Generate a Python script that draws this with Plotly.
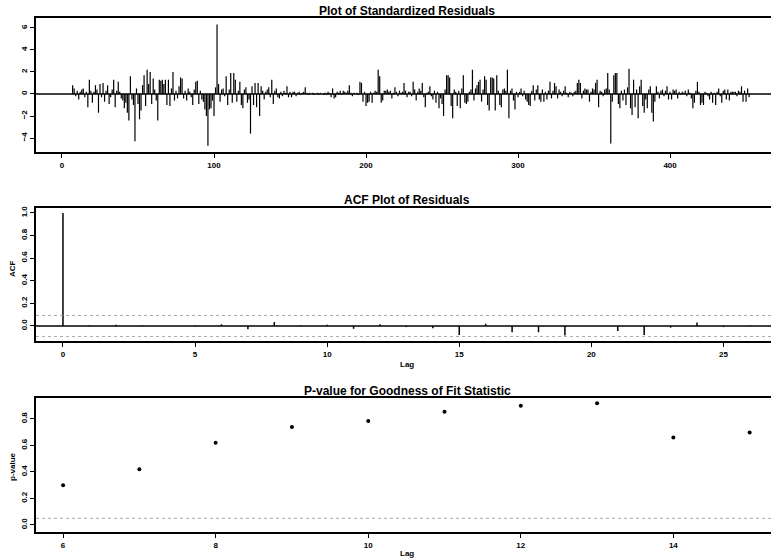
import plotly.graph_objects as go

# ---------------- data ----------------
resid_start = 7
residuals = [
    0.8, 0.5, -0.2, 0.3, -0.5, 0.2, 0.4, 0.5, -0.3, 0.2,
    -1.2, 1.3, 0.3, -0.8, 0.2, 0.8, 0.4, -1.7, 0.9, -0.3,
    1.0, -0.7, 0.3, 0.8, -0.9, -0.3, 0.4, 1.3, -1.2, 0.3,
    1.1, 0.2, -0.4, -0.6, -1.3, -0.8, -1.7, -2.4, 1.6, -0.5,
    -1.0, -4.3, 0.5, -0.9, -2.3, -1.5, 0.8, 1.7, -1.1, 2.2,
    0.9, 2.0, -0.9, 1.4, 0.4, -0.6, -2.4, 1.3, 1.2, 1.3,
    0.9, 1.3, -1.0, 1.3, -1.1, 0.5, 2.0, -0.6, 0.3, -0.4,
    0.7, 1.5, 1.4, -0.4, 0.3, -0.6, 0.5, 0.2, -0.3, -1.0,
    0.4, 1.1, 1.2, -0.9, 0.3, -0.5, -0.7, -1.4, -2.0, -4.7,
    -1.4, -1.3, -0.6, -2.0, 0.6, 6.3, 0.9, -0.7, 0.4, 0.5,
    -0.2, 1.6, -1.0, 0.4, 1.9, -0.8, 1.9, 1.3, -0.7, 0.3,
    1.1, -1.0, -1.3, 0.4, 0.6, -0.8, -0.5, -3.6, 0.7, -1.0,
    1.0, -1.2, 1.0, -2.0, 0.7, 0.3, -0.5, 0.2, 0.4, 0.6,
    -0.3, 1.3, -0.9, 0.3, 0.5, -0.3, -0.4, 0.2, -0.2, 0.3,
    0.1, 0.7, -0.3, 0.2, -0.3, 0.2, 0.2, -0.2, 0.1, 0.2,
    -0.1, 0.1, 0.2, 0.6, 0.1, -0.1, 0.1, 0.0, 0.1, -0.1,
    0.0, 0.1, -0.1, 0.1, 0.0, -0.1, 0.1, -0.1, 0.2, 0.1,
    -0.3, 0.5, -0.4, -0.3, 0.2, 0.1, 0.3, -0.1, 0.3, 0.2,
    0.1, 0.3, 0.8, 0.1, -0.2, 0.1, 0.0, 0.1, -0.1, 1.1,
    1.0, -0.7, 0.2, -1.1, -0.8, -0.7, 0.2, -0.8, 0.1, 0.3,
    0.2, 2.2, 1.6, -0.8, -0.6, 0.3, 0.3, 0.4, 0.2, 0.3,
    -0.4, 0.1, 0.6, 0.2, -0.2, 0.3, 0.1, 0.2, 1.0, 0.3,
    -0.3, 0.2, 0.2, -0.2, 1.1, 0.4, -0.6, 0.2, 0.5, 0.3,
    1.0, -0.3, -1.2, 0.1, 0.2, 0.7, -0.2, -0.5, 0.3, -0.8,
    0.2, -1.3, -0.4, -0.9, -2.0, 0.4, 1.7, 1.7, 1.5, -1.1,
    -2.2, 0.4, 0.2, -1.1, 0.3, -1.3, 0.5, 1.7, -0.8, -0.9,
    -0.7, 0.2, 0.4, 2.2, -0.6, 0.5, 0.8, 1.1, 1.3, -0.7,
    0.4, 1.6, 1.3, -1.0, -1.5, 1.5, 1.5, 1.4, -1.5, 1.7,
    0.3, -1.0, -1.2, 0.4, 0.5, 0.3, 2.2, -2.2, 0.3, 0.5,
    -0.6, -1.4, 0.2, -0.3, 0.2, 0.5, -0.2, 0.3, -0.5, -0.7,
    -1.0, -1.1, 0.3, 0.8, -0.6, 0.4, 0.8, -0.5, -0.7, 0.4,
    -0.7, 0.2, -0.5, 0.3, 1.1, -0.4, 0.3, 1.0, 0.7, -0.4,
    0.4, 0.2, -0.2, 0.3, 0.7, 0.1, -0.3, 0.2, 0.1, -0.2,
    0.2, 0.3, 1.0, 1.3, 1.0, -0.4, 0.3, 0.5, 0.4, 0.4,
    -0.7, 0.2, 0.5, 0.4, 1.0, 1.3, -1.2, 0.3, 0.2, -0.2,
    0.4, 0.5, 1.9, 0.4, -4.5, -0.7, 1.7, 1.9, 1.9, -0.9,
    -1.3, 0.3, -0.6, 0.4, -1.0, 0.6, 2.3, -1.3, -1.9, 1.3,
    -1.2, 0.4, -2.2, 0.7, 1.3, -1.1, -1.7, -0.5, -1.3, 0.4,
    0.7, -1.7, -2.5, -0.7, 0.7, 0.2, -0.4, 0.3, 0.4, -0.2,
    0.3, 0.7, -0.5, 0.2, -0.5, 0.4, 0.3, 0.4, -0.4, 0.2,
    -0.1, 0.2, 0.1, 0.3, -0.2, 0.4, 0.1, -0.4, -1.3, -0.8,
    0.3, 1.1, 0.2, -1.0, -0.8, -1.0, 0.2, 0.1, -0.2, -0.5,
    0.2, -0.8, 0.1, -1.0, 0.2, 0.5, -0.2, -0.8, 0.3, 0.4,
    -0.5, 0.4, -0.6, 0.2, 0.2, 0.2, 0.2, -0.2, 0.3, 0.2,
    0.7, -0.7, 0.3, -0.7, 0.5, -0.3,
]

acf_lags = list(range(0, 27))
acf_values = [1.0, 0.005, 0.01, 0.005, 0.0, -0.005, 0.015, -0.03, 0.035,
              0.005, 0.01, -0.025, 0.015, -0.01, -0.02, -0.08, 0.02, -0.055,
              -0.055, -0.085, 0.0, -0.045, -0.08, -0.015, 0.03, -0.01, 0.005]
acf_conf = 0.093

pv_lags = list(range(6, 16))
p_values = [0.30, 0.42, 0.62, 0.74, 0.785, 0.855, 0.90, 0.918, 0.66, 0.697]
p_sig = 0.05

titles = ["Plot of Standardized Residuals", "ACF Plot of Residuals",
          "P-value for Goodness of Fit Statistic"]

# ---------------- figure ----------------
W, H = 771, 560
FONT = "Liberation Sans"


def ydom(top_px, bot_px):
    return [1 - bot_px / H, 1 - top_px / H]


def spikes(xv, yv):
    xs, ys = [], []
    for a, b in zip(xv, yv):
        xs += [a, a, None]
        ys += [0, b, None]
    return xs, ys


fig = go.Figure()

t = list(range(resid_start, resid_start + len(residuals)))
xs, ys = spikes(t, residuals)
fig.add_trace(go.Scatter(x=xs, y=ys, mode="lines", line=dict(color="black", width=1.2),
                         xaxis="x", yaxis="y", hoverinfo="skip", showlegend=False))

xs2, ys2 = spikes(acf_lags, acf_values)
fig.add_trace(go.Scatter(x=xs2, y=ys2, mode="lines", line=dict(color="black", width=1.5),
                         xaxis="x2", yaxis="y2", hoverinfo="skip", showlegend=False))

fig.add_trace(go.Scatter(x=pv_lags, y=p_values, mode="markers",
                         marker=dict(color="black", size=4),
                         xaxis="x3", yaxis="y3", hoverinfo="skip", showlegend=False))

tickfont = dict(family=FONT, size=8, color="black", weight="bold")
common = dict(showline=True, linecolor="black", linewidth=2, ticks="outside",
              ticklen=4, tickwidth=1, tickcolor="black", showgrid=False,
              zeroline=False, tickfont=tickfont, automargin=False, fixedrange=True)

fig.update_layout(
    width=W, height=H,
    margin=dict(l=36, r=0, t=0, b=0),
    paper_bgcolor="white", plot_bgcolor="white",
    showlegend=False,
    xaxis=dict(domain=[0, 1], anchor="y", range=[-17.1, 466.4], mirror=True,
               tickvals=[0, 100, 200, 300, 400], **common),
    yaxis=dict(domain=ydom(18, 152), anchor="x", range=[-5.27, 6.9],
               tickvals=[-4, -2, 0, 2, 4, 6], tickangle=-90, **common),
    xaxis2=dict(domain=[0, 1], anchor="y2", range=[-1.02, 26.8], mirror=True,
                tickvals=[0, 5, 10, 15, 20, 25], **common),
    yaxis2=dict(domain=ydom(208, 341), anchor="x2", range=[-0.133, 1.044],
                tickvals=[0, 0.2, 0.4, 0.6, 0.8, 1.0], tickformat=".1f",
                tickangle=-90, **common),
    xaxis3=dict(domain=[0, 1], anchor="y3", range=[5.645, 15.28], mirror=True,
                tickvals=[6, 8, 10, 12, 14], **common),
    yaxis3=dict(domain=ydom(398, 532), anchor="x3", range=[-0.053, 0.958],
                tickvals=[0, 0.2, 0.4, 0.6, 0.8], tickformat=".1f",
                tickangle=-90, **common),
)

# reference lines
fig.add_shape(type="line", xref="x domain", yref="y", x0=0, x1=1, y0=0, y1=0,
              line=dict(color="black", width=1.5))
fig.add_shape(type="line", xref="x2 domain", yref="y2", x0=0, x1=1, y0=0, y1=0,
              line=dict(color="black", width=1.5))
for c in (acf_conf, -acf_conf):
    fig.add_shape(type="line", xref="x2 domain", yref="y2", x0=0, x1=1, y0=c, y1=c,
                  line=dict(color="#aaaaaa", width=1, dash="dot"))
fig.add_shape(type="line", xref="x3 domain", yref="y3", x0=0, x1=1, y0=p_sig, y1=p_sig,
              line=dict(color="#aaaaaa", width=1, dash="dot"))

# titles and axis labels
title_y = [11, 200, 391]
for txt, yp in zip(titles, title_y):
    fig.add_annotation(text="<b>%s</b>" % txt, xref="paper", yref="paper",
                       x=(407 - 36) / (W - 36), y=1 - yp / H, xanchor="center",
                       yanchor="middle", showarrow=False,
                       font=dict(family=FONT, size=12, color="black"))

for yp in (364, 553):
    fig.add_annotation(text="<b>Lag</b>", xref="paper", yref="paper",
                       x=(407 - 36) / (W - 36), y=1 - yp / H, xanchor="center",
                       yanchor="middle", showarrow=False,
                       font=dict(family=FONT, size=8, color="black"))

for txt, yp in (("ACF", 268), ("p-value", 466)):
    fig.add_annotation(text="<b>%s</b>" % txt, xref="paper", yref="paper",
                       x=(12 - 36) / (W - 36), y=1 - yp / H, xanchor="center",
                       yanchor="middle", showarrow=False, textangle=-90,
                       font=dict(family=FONT, size=8, color="black"))

fig.write_html("out.html")
